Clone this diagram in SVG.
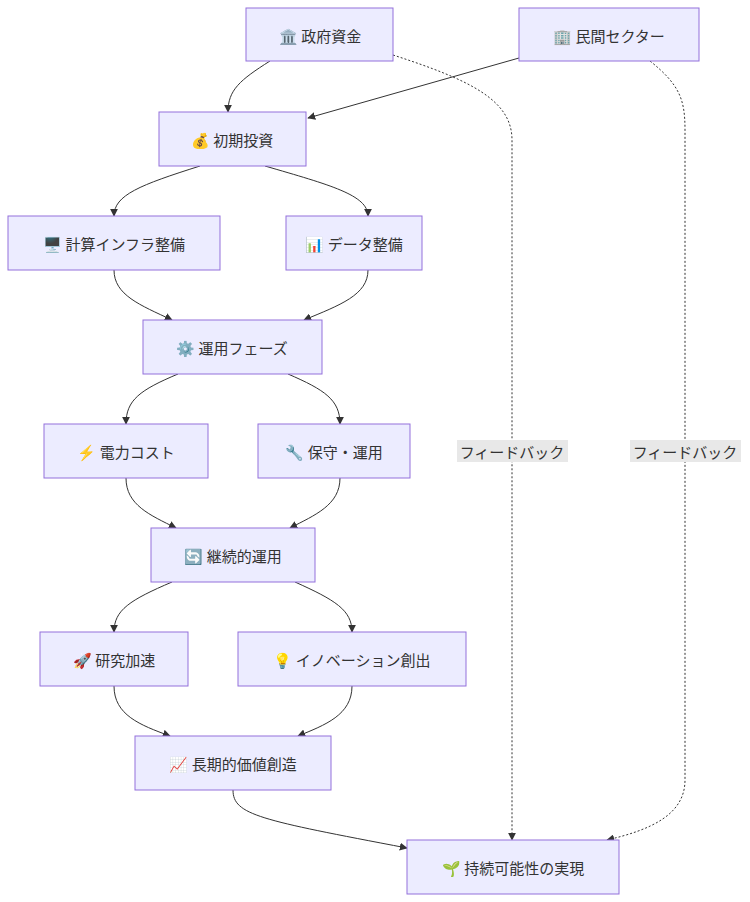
<svg xmlns="http://www.w3.org/2000/svg" width="750" height="902" viewBox="0 0 750 902">
<style>
.n rect{fill:#ECECFF;stroke:#9370DB;stroke-width:1}
.n text{font-family:"Noto Sans CJK JP","Liberation Sans",sans-serif;font-size:15px;fill:#333;text-anchor:middle;dominant-baseline:central}
.e path{fill:none;stroke:#333;stroke-width:1;marker-end:url(#a)}
.e path.d{stroke-dasharray:2 2}
.l rect{fill:#e8e8e8}
.l text{font-family:"Noto Sans CJK JP","Liberation Sans",sans-serif;font-size:15px;fill:#333;text-anchor:middle;dominant-baseline:central}
</style>
<defs><marker id="a" viewBox="0 0 10 10" refX="9" refY="5" markerWidth="8" markerHeight="8" orient="auto"><path d="M0,0L10,5L0,10z" fill="#333"/></marker></defs>
<rect width="750" height="902" fill="#fff"/>
<g class="e">
<path d="M270,61 C240,80 228,90 228,112"/>
<path d="M519,58 L308,118"/>
<path class="d" d="M393,55 C470,80 512,100 512,140 L512,840"/>
<path class="d" d="M650,61 C680,85 685,100 685,130 L685,780 C685,815 650,830 607,840"/>
<path d="M200,166 C140,185 114,195 114,216"/>
<path d="M265,166 C330,185 368,195 368,216"/>
<path d="M114,270 C114,295 140,305 172,320"/>
<path d="M368,270 C368,295 340,305 304,320"/>
<path d="M178,374 C140,390 126,400 126,424"/>
<path d="M288,374 C325,390 340,400 340,424"/>
<path d="M126,478 C126,505 150,515 176,528"/>
<path d="M340,478 C340,505 315,515 290,528"/>
<path d="M172,582 C130,600 114,610 114,632"/>
<path d="M295,582 C335,600 352,610 352,632"/>
<path d="M114,686 C114,715 140,725 170,736"/>
<path d="M352,686 C352,715 325,725 298,736"/>
<path d="M233,790 C233,815 260,820 407,848"/>
</g>
<g class="l">
<rect x="457" y="440" width="111" height="22"/><text x="512" y="451">フィードバック</text>
<rect x="630" y="440" width="111" height="22"/><text x="685" y="451">フィードバック</text>
</g>
<g class="n" id="n1"><rect x="246" y="8" width="147" height="53"/><text x="320" y="35">🏛️ 政府資金</text></g>
<g class="n" id="n2"><rect x="519" y="8" width="180" height="53"/><text x="609" y="35">🏢 民間セクター</text></g>
<g class="n" id="n3"><rect x="159" y="112" width="147" height="54"/><text x="232" y="139">💰 初期投資</text></g>
<g class="n" id="n4"><rect x="8" y="216" width="212" height="54"/><text x="114" y="243">🖥️ 計算インフラ整備</text></g>
<g class="n" id="n5"><rect x="286" y="216" width="136" height="54"/><text x="354" y="243">📊 データ整備</text></g>
<g class="n" id="n6"><rect x="143" y="320" width="179" height="54"/><text x="232" y="347">⚙️ 運用フェーズ</text></g>
<g class="n" id="n7"><rect x="44" y="424" width="164" height="54"/><text x="126" y="451">⚡ 電力コスト</text></g>
<g class="n" id="n8"><rect x="258" y="424" width="152" height="54"/><text x="334" y="451">🔧 保守・運用</text></g>
<g class="n" id="n9"><rect x="151" y="528" width="164" height="54"/><text x="233" y="555">🔄 継続的運用</text></g>
<g class="n" id="n10"><rect x="40" y="632" width="148" height="54"/><text x="114" y="659">🚀 研究加速</text></g>
<g class="n" id="n11"><rect x="238" y="632" width="228" height="54"/><text x="352" y="659">💡 イノベーション創出</text></g>
<g class="n" id="n12"><rect x="135" y="736" width="196" height="54"/><text x="233" y="763">📈 長期的価値創造</text></g>
<g class="n" id="n13"><rect x="407" y="840" width="212" height="54"/><text x="513" y="867">🌱 持続可能性の実現</text></g>
</svg>
